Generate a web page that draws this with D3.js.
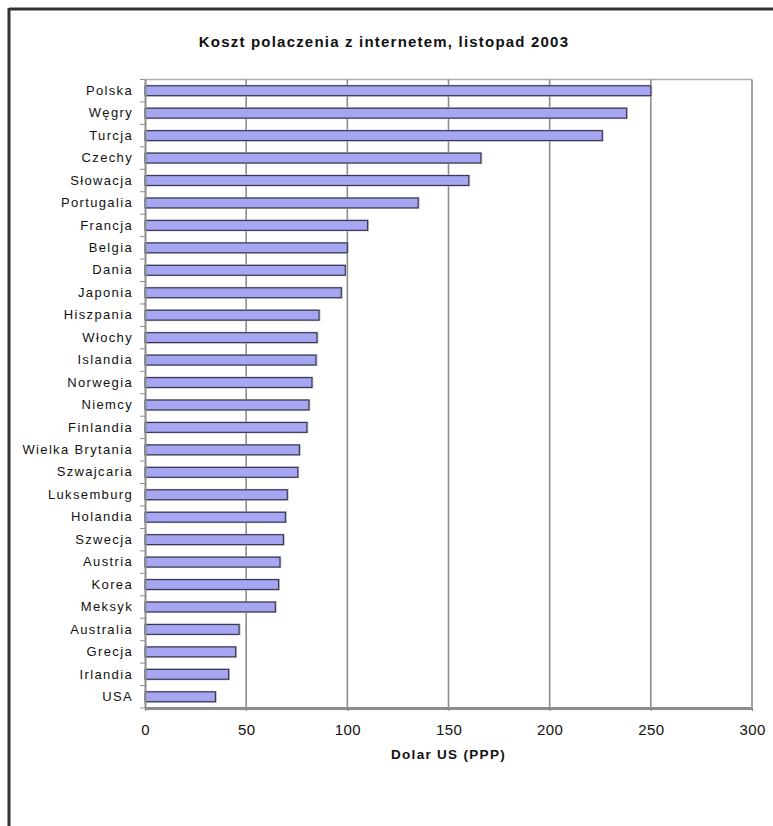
<!DOCTYPE html>
<html>
<head>
<meta charset="utf-8">
<script src="https://cdn.jsdelivr.net/npm/d3@7"></script>
<style>
  html, body { margin: 0; padding: 0; background: #fff; }
  svg { display: block; }
</style>
</head>
<body>
<svg id="chart" width="773" height="826"></svg>
<script>
const categories = ["Polska","Węgry","Turcja","Czechy","Słowacja","Portugalia","Francja","Belgia","Dania","Japonia","Hiszpania","Włochy","Islandia","Norwegia","Niemcy","Finlandia","Wielka Brytania","Szwajcaria","Luksemburg","Holandia","Szwecja","Austria","Korea","Meksyk","Australia","Grecja","Irlandia","USA"];
const values = [250,238,226,166,160,135,110,100,99,97,86,85,84.5,82.5,81,80,76.3,75.5,70.3,69.4,68.4,66.7,66,64.4,46.5,44.8,41.3,34.8];
const xTicks = [0,50,100,150,200,250,300];
const title = "Koszt polaczenia z internetem, listopad 2003";
const xTitle = "Dolar US (PPP)";

const svg = d3.select("#chart");
const font = "'Liberation Sans', Arial, sans-serif";
const L = 145, R = 752, T = 79.5, B = 708;

// outer frame
svg.append("line").attr("x1", 9).attr("x2", 773).attr("y1", 9).attr("y2", 9)
  .attr("stroke", "#333").attr("stroke-width", 3);
svg.append("line").attr("x1", 9).attr("x2", 9).attr("y1", 8).attr("y2", 826)
  .attr("stroke", "#333").attr("stroke-width", 3);

const x = d3.scaleLinear().domain([0, 300]).range([L, R]);
const y = d3.scaleBand().domain(categories).range([T, B]).paddingInner(0.56).paddingOuter(0.28);
const yb = d3.scaleBand().domain(categories).range([T, B]);

// plot top border
svg.append("line").attr("x1", L).attr("x2", R).attr("y1", T).attr("y2", T)
  .attr("stroke", "#b0b0b0").attr("stroke-width", 1.5);

// vertical gridlines
svg.append("g").selectAll("line").data(xTicks.slice(1)).join("line")
  .attr("x1", d => x(d)).attr("x2", d => x(d)).attr("y1", T).attr("y2", B)
  .attr("stroke", "#8c8c8c").attr("stroke-width", 1.6);

// bars (shadow + bar)
const bars = svg.append("g");
bars.selectAll("rect.sh").data(values).join("rect").attr("class", "sh")
  .attr("x", x(0)).attr("y", (d, i) => y(categories[i]) - 1)
  .attr("width", d => x(d) - x(0) + 1.5).attr("height", y.bandwidth() + 2)
  .attr("fill", "#c4c4c4");
bars.selectAll("rect.b").data(values).join("rect").attr("class", "b")
  .attr("x", x(0)).attr("y", (d, i) => y(categories[i]))
  .attr("width", d => x(d) - x(0)).attr("height", y.bandwidth())
  .attr("fill", "#a6a6f2").attr("stroke", "#3a3a55").attr("stroke-width", 1.2);

// x axis
const xAxis = d3.axisBottom(x).tickValues(xTicks).tickSize(3).tickPadding(13).tickSizeOuter(0);
const gx = svg.append("g").attr("transform", `translate(0,${B})`).call(xAxis);
gx.select(".domain").attr("stroke", "#8c8c8c").attr("stroke-width", 2.8);
gx.selectAll(".tick line").attr("stroke", "#8c8c8c").attr("stroke-width", 1.2);
gx.selectAll(".tick text").attr("font-family", font).attr("font-size", 15)
  .attr("letter-spacing", 0.4).attr("fill", "#111");

// y axis
const yAxis = d3.axisLeft(yb).tickSize(0).tickPadding(12);
const gy = svg.append("g").attr("transform", `translate(${L},0)`).call(yAxis);
gy.select(".domain").attr("stroke", "#8c8c8c").attr("stroke-width", 2);
gy.selectAll(".tick text").attr("font-family", font).attr("font-size", 13)
  .attr("letter-spacing", 1.35).attr("fill", "#111");
// band boundary ticks
const bounds = categories.map(c => yb(c)).concat([B]);
svg.append("g").selectAll("line").data(bounds).join("line")
  .attr("x1", L - 5).attr("x2", L).attr("y1", d => d).attr("y2", d => d)
  .attr("stroke", "#8c8c8c").attr("stroke-width", 1);

// title
svg.append("text").attr("x", 384).attr("y", 47).attr("text-anchor", "middle")
  .attr("font-family", font).attr("font-weight", "bold").attr("font-size", 15)
  .attr("letter-spacing", 1.2).attr("fill", "#111").text(title);

// x title
svg.append("text").attr("x", (L + R) / 2).attr("y", 759).attr("text-anchor", "middle")
  .attr("font-family", font).attr("font-weight", "bold").attr("font-size", 13.5)
  .attr("letter-spacing", 1.3).attr("fill", "#111").text(xTitle);
</script>
</body>
</html>
